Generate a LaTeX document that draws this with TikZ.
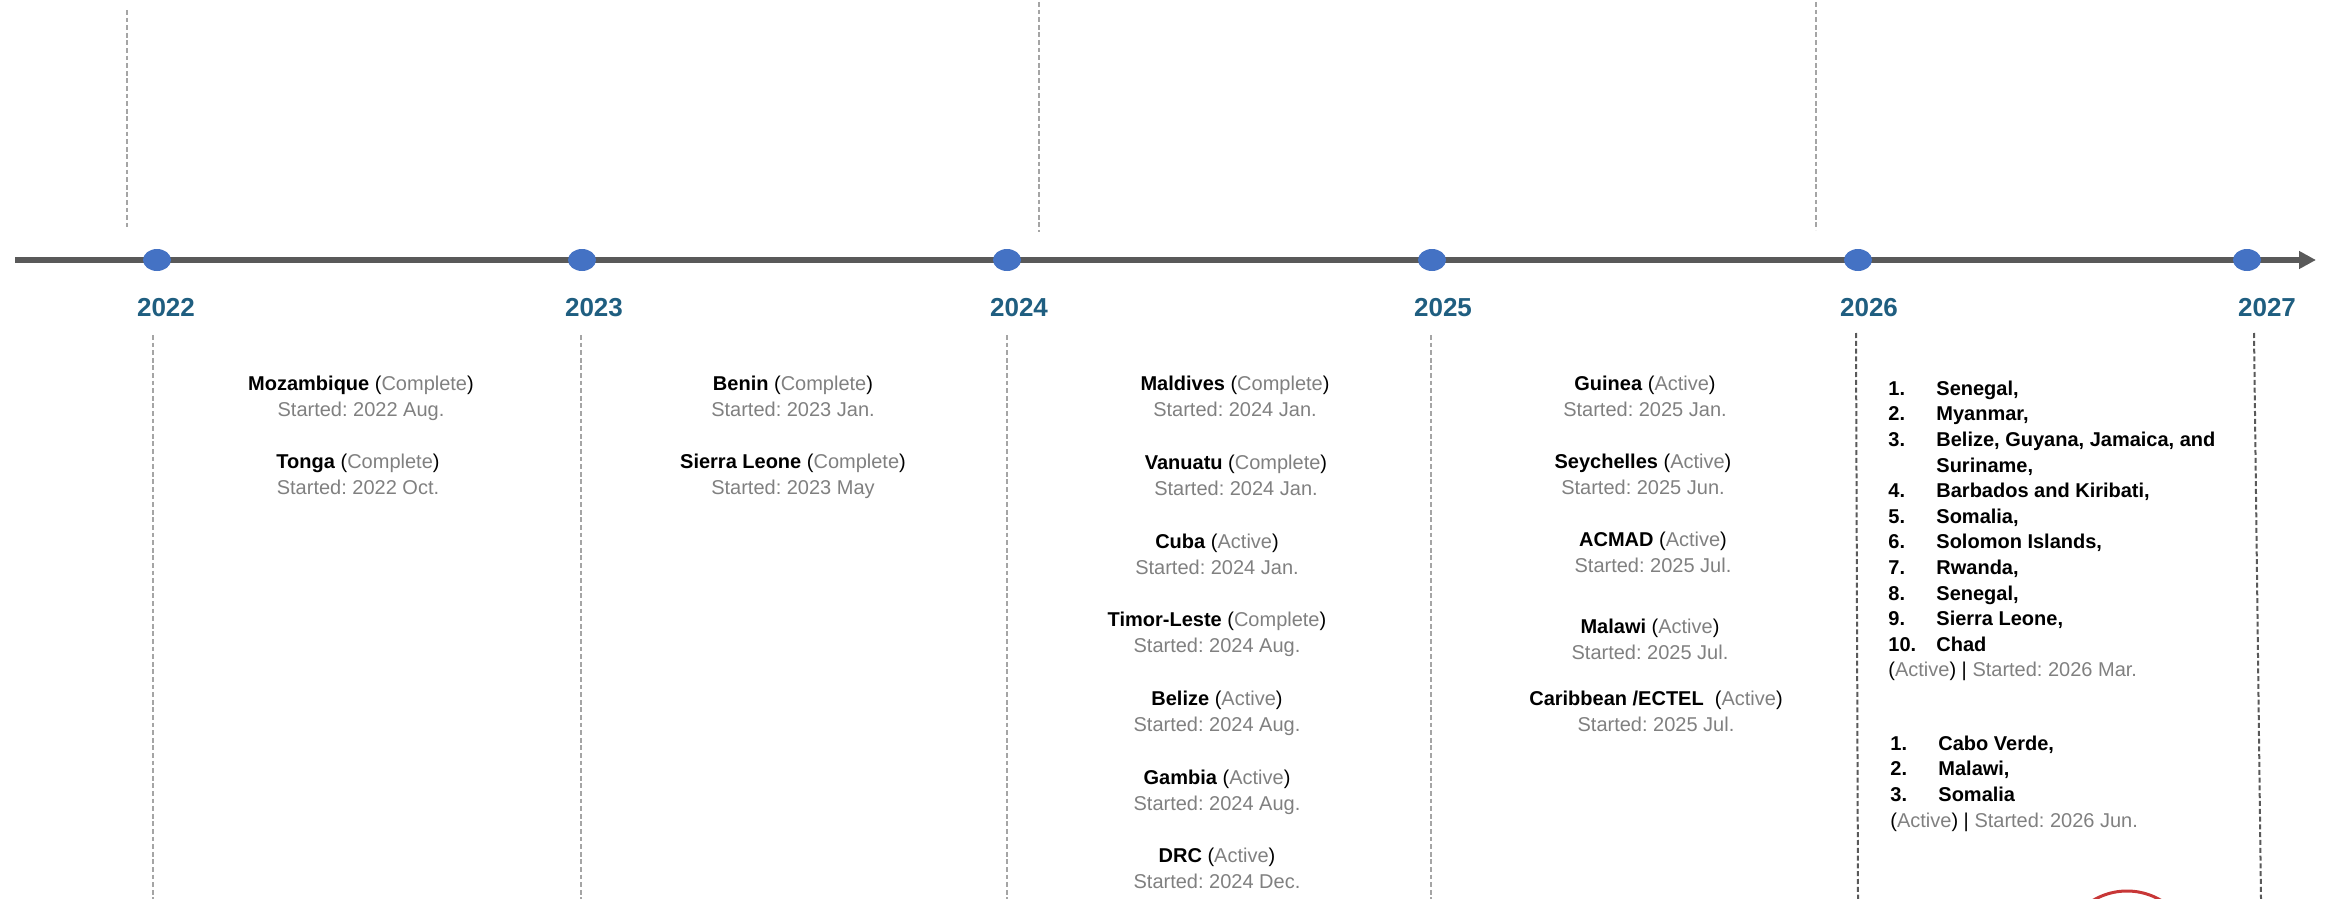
\documentclass[tikz,border=0pt]{standalone}
\usepackage{fontspec}
\setmainfont{Liberation Sans}
\usetikzlibrary{arrows.meta,shapes.geometric}
\frenchspacing
\definecolor{yearblue}{RGB}{31,94,128}
\definecolor{dotblue}{RGB}{68,114,196}
\definecolor{axisgray}{RGB}{89,89,89}
\definecolor{softgray}{RGB}{128,128,128}
\definecolor{dashgray}{RGB}{165,165,165}
\definecolor{ringred}{RGB}{200,55,55}
\newcommand{\st}[1]{\textcolor{softgray}{#1}}
\newcommand{\entry}[3]{\textbf{#1} (\st{#2})\\\st{Started: #3}}
\newcommand{\itm}[2]{\textbf{\makebox[24pt][l]{#1}#2}}
\begin{document}
\begin{tikzpicture}[x=0.5pt,y=-0.5pt,
  yearlbl/.style={font=\fontsize{13}{15}\selectfont\bfseries, text=yearblue, inner sep=0},
  dotmark/.style={ellipse, fill=dotblue, draw=none, minimum width=14pt, minimum height=11pt, inner sep=0},
  entrybox/.style={font=\fontsize{10}{13}\selectfont\frenchspacing, align=center, inner sep=0, anchor=north},
  listbox/.style={font=\fontsize{10}{12.8}\selectfont\frenchspacing, align=left, inner sep=0, anchor=north west},
  thindash/.style={draw=dashgray, line width=0.6pt, dash pattern=on 2.4pt off 1.4pt},
  thickdash/.style={draw=axisgray, line width=1pt, dash pattern=on 2.5pt off 1.4pt},
  axisline/.style={draw=axisgray, line width=3pt, -{Triangle[length=8.5pt,width=8.5pt]}},
]
\useasboundingbox (0,0) rectangle (2326,899);

% upper dashed guides
\coordinate (ua1) at (127,10);   \coordinate (ub1) at (127,227);
\coordinate (ua2) at (1039,2);   \coordinate (ub2) at (1039,232);
\coordinate (ua3) at (1816,2);   \coordinate (ub3) at (1816,230);
\draw[thindash] (ua1) -- (ub1);
\draw[thindash] (ua2) -- (ub2);
\draw[thindash] (ua3) -- (ub3);

% lower dashed separators
\coordinate (la1) at (153,335);  \coordinate (lb1) at (153,899);
\coordinate (la2) at (581,335);  \coordinate (lb2) at (581,899);
\coordinate (la3) at (1007,335); \coordinate (lb3) at (1007,899);
\coordinate (la4) at (1431,335); \coordinate (lb4) at (1431,899);
\coordinate (la5) at (1856,333); \coordinate (lb5) at (1858,899);
\coordinate (la6) at (2254,333); \coordinate (lb6) at (2261,899);
\draw[thindash] (la1) -- (lb1);
\draw[thindash] (la2) -- (lb2);
\draw[thindash] (la3) -- (lb3);
\draw[thindash] (la4) -- (lb4);
\draw[thickdash] (la5) -- (lb5);
\draw[thickdash] (la6) -- (lb6);

% axis
\coordinate (axL) at (15,260);
\coordinate (axR) at (2316,260);
\draw[axisline] (axL) -- (axR);

% year dots
\node[dotmark] (d22) at (157,260) {};
\node[dotmark] (d23) at (582,260) {};
\node[dotmark] (d24) at (1007,260) {};
\node[dotmark] (d25) at (1432,260) {};
\node[dotmark] (d26) at (1858,260) {};
\node[dotmark] (d27) at (2247,260) {};

% year labels
\node[yearlbl] (y22) at (166,308) {2022};
\node[yearlbl] (y23) at (594,308) {2023};
\node[yearlbl] (y24) at (1019,308) {2024};
\node[yearlbl] (y25) at (1443,308) {2025};
\node[yearlbl] (y26) at (1869,308) {2026};
\node[yearlbl] (y27) at (2267,308) {2027};

% 2022
\node[entrybox] (mz) at (361,375.5) {\entry{Mozambique}{Complete}{2022 Aug.}};
\node[entrybox] (to) at (358,453.5) {\entry{Tonga}{Complete}{2022 Oct.}};
% 2023
\node[entrybox] (bn) at (793,375.5) {\entry{Benin}{Complete}{2023 Jan.}};
\node[entrybox] (sl) at (793,453.5) {\entry{Sierra Leone}{Complete}{2023 May}};
% 2024
\node[entrybox] (md) at (1235,375.5) {\entry{Maldives}{Complete}{2024 Jan.}};
\node[entrybox] (va) at (1236,454.5) {\entry{Vanuatu}{Complete}{2024 Jan.}};
\node[entrybox] (cu) at (1217,533.5) {\entry{Cuba}{Active}{2024 Jan.}};
\node[entrybox] (tl) at (1217,611.5) {\entry{Timor-Leste}{Complete}{2024 Aug.}};
\node[entrybox] (bz) at (1217,690.5) {\entry{Belize}{Active}{2024 Aug.}};
\node[entrybox] (gm) at (1217,770) {\entry{Gambia}{Active}{2024 Aug.}};
\node[entrybox] (dr) at (1217,847.5) {\entry{DRC}{Active}{2024 Dec.}};
% 2025
\node[entrybox] (gn) at (1645,375.5) {\entry{Guinea}{Active}{2025 Jan.}};
\node[entrybox] (sy) at (1643,453.5) {\entry{Seychelles}{Active}{2025 Jun.}};
\node[entrybox] (ac) at (1653,531.5) {\entry{ACMAD}{Active}{2025 Jul.}};
\node[entrybox] (mw) at (1650,618.5) {\entry{Malawi}{Active}{2025 Jul.}};
\node[entrybox] (ce) at (1656,690.5) {\textbf{Caribbean /ECTEL}\ \ (\st{Active})\\\st{Started: 2025 Jul.}};

% 2026 lists
\node[listbox] (lista) at (1888,380.5) {\itm{1.}{Senegal,}\\
\itm{2.}{Myanmar,}\\
\itm{3.}{Belize, Guyana, Jamaica, and}\\
\itm{}{Suriname,}\\
\itm{4.}{Barbados and Kiribati,}\\
\itm{5.}{Somalia,}\\
\itm{6.}{Solomon Islands,}\\
\itm{7.}{Rwanda,}\\
\itm{8.}{Senegal,}\\
\itm{9.}{Sierra Leone,}\\
\itm{10.}{Chad}\\
(\st{Active}) | \st{Started: 2026 Mar.}};
\node[listbox] (listb) at (1890,735.5) {\itm{1.}{Cabo Verde,}\\
\itm{2.}{Malawi,}\\
\itm{3.}{Somalia}\\
(\st{Active}) | \st{Started: 2026 Jun.}};

% red ring at the lower edge
\begin{scope}
\clip (0,0) rectangle (2326,899);
\node[circle, draw=ringred, line width=1.5pt, minimum size=66pt, inner sep=0] (ring) at (2127,957) {};
\end{scope}
\end{tikzpicture}
\end{document}
